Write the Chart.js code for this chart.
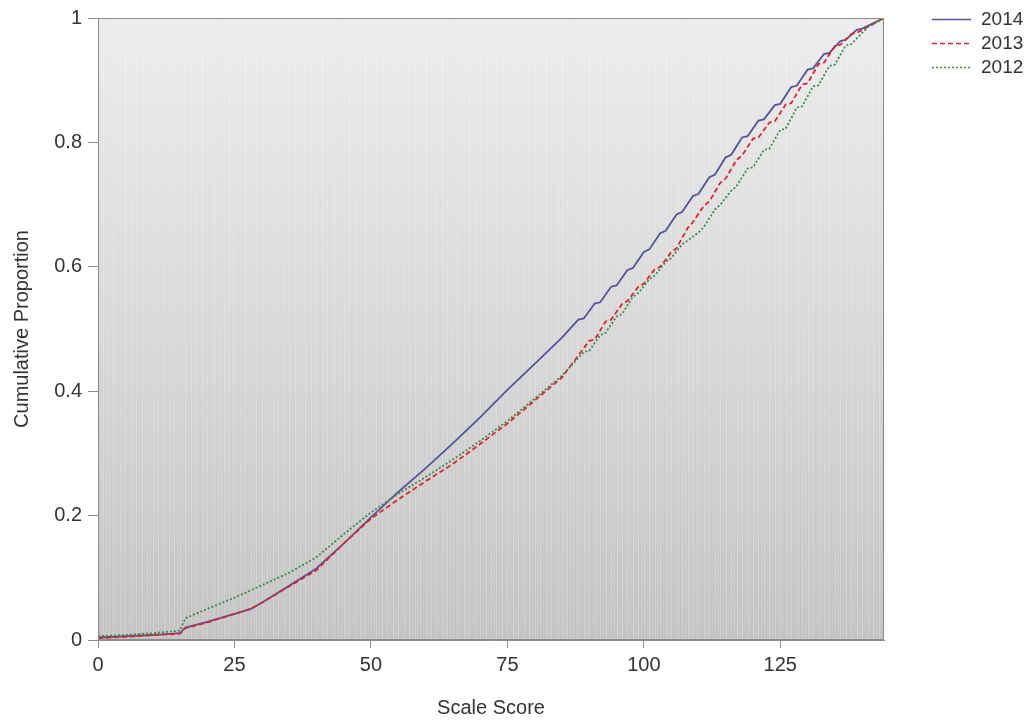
<!DOCTYPE html>
<html>
<head>
<meta charset="utf-8">
<script src="https://cdn.jsdelivr.net/npm/chart.js@4.4.1/dist/chart.umd.min.js"></script>
<style>
  html, body { margin: 0; padding: 0; background: #fff; }
  #wrap { width: 1034px; height: 721px; position: relative; }
</style>
</head>
<body>
<div id="wrap"><canvas id="cdf"></canvas></div>
<script>
'use strict';

// Cumulative proportion of students by scale score, one curve per year

var years = ['2014', '2013', '2012'];

var scores2014 = [0, 5, 10, 15, 16, 20, 25, 28, 30, 35, 40, 45, 50, 55, 60, 65, 70, 75, 80, 85,
  88, 89, 91, 92, 94, 95, 97, 98, 100, 101, 103, 104, 106, 107, 109, 110, 112, 113, 115, 116,
  118, 119, 121, 122, 124, 125, 127, 128, 130, 131, 133, 134, 136, 137, 139, 140, 144];
var share2014 = [0.004, 0.006, 0.008, 0.011, 0.020, 0.029, 0.042, 0.050, 0.060, 0.087, 0.115, 0.155, 0.197, 0.238, 0.276, 0.316, 0.358, 0.402, 0.444, 0.486,
  0.515, 0.517, 0.541, 0.543, 0.568, 0.570, 0.595, 0.598, 0.624, 0.628, 0.654, 0.658, 0.684, 0.688, 0.714, 0.717, 0.744, 0.748, 0.776, 0.780,
  0.808, 0.810, 0.835, 0.837, 0.860, 0.862, 0.889, 0.891, 0.917, 0.919, 0.942, 0.944, 0.963, 0.965, 0.981, 0.983, 1.000];

var scores2013 = [0, 5, 10, 15, 16, 20, 25, 28, 30, 35, 40, 45, 50, 55, 60, 65, 70, 75, 80, 85,
  90, 91, 93, 94, 96, 97, 99, 100, 102, 103, 105, 106, 108, 109, 111, 112, 114, 115, 117, 118,
  120, 121, 123, 124, 126, 127, 129, 130, 132, 133, 135, 136, 138, 139, 144];
var share2013 = [0.003, 0.005, 0.008, 0.010, 0.019, 0.028, 0.042, 0.050, 0.060, 0.086, 0.112, 0.155, 0.195, 0.226, 0.255, 0.283, 0.315, 0.348, 0.385, 0.422,
  0.481, 0.483, 0.512, 0.515, 0.540, 0.545, 0.568, 0.573, 0.596, 0.600, 0.623, 0.630, 0.662, 0.672, 0.698, 0.705, 0.735, 0.742, 0.772, 0.779,
  0.806, 0.808, 0.832, 0.834, 0.861, 0.863, 0.893, 0.895, 0.926, 0.928, 0.955, 0.957, 0.974, 0.976, 1.000];

var scores2012 = [0, 5, 10, 15, 16, 20, 25, 28, 30, 35, 40, 45, 50, 55, 60, 65, 70, 75, 80, 85,
  89, 90, 92, 93, 95, 96, 98, 99, 101, 102, 104, 105, 107, 108, 110, 111, 113, 114, 116, 117,
  119, 120, 122, 123, 125, 126, 128, 129, 131, 132, 134, 135, 137, 138, 141, 144];
var share2012 = [0.006, 0.008, 0.011, 0.015, 0.035, 0.050, 0.068, 0.080, 0.088, 0.108, 0.133, 0.170, 0.205, 0.235, 0.262, 0.290, 0.320, 0.352, 0.388, 0.425,
  0.463, 0.465, 0.490, 0.494, 0.520, 0.524, 0.552, 0.558, 0.580, 0.586, 0.608, 0.614, 0.636, 0.642, 0.655, 0.664, 0.692, 0.700, 0.722, 0.730,
  0.758, 0.760, 0.788, 0.790, 0.820, 0.822, 0.856, 0.858, 0.890, 0.892, 0.923, 0.925, 0.956, 0.958, 0.985, 1.000];

var xTicks = [0, 25, 50, 75, 100, 125];
var yTicks = [0, 0.2, 0.4, 0.6, 0.8, 1];

var lineColors = { '2014': '#54549c', '2013': '#e0242c', '2012': '#3c8a4c' };
var lineDash = { '2014': [], '2013': [5, 3], '2012': [2, 2] };

var FONT = '"Liberation Sans", Arial, Helvetica, sans-serif';
var TEXT = '#333333';
var AXIS = '#8c8c8c';

function points(xs, ys) {
  return xs.map(function(x, i) { return { x: x, y: ys[i] }; });
}

function series(year, xs, ys) {
  return {
    label: year,
    data: points(xs, ys),
    borderColor: lineColors[year],
    borderDash: lineDash[year],
    borderWidth: 1.8,
    pointRadius: 0,
    tension: 0,
    fill: false
  };
}

// Grey gradient panel with fine vertical stripes
var panel = {
  id: 'panel',
  beforeDraw: function(chart) {
    var ctx = chart.ctx, a = chart.chartArea, xs = chart.scales.x;
    ctx.save();
    var g = ctx.createLinearGradient(0, a.top, 0, a.bottom);
    g.addColorStop(0, '#ececec');
    g.addColorStop(1, '#c3c3c3');
    ctx.fillStyle = g;
    ctx.fillRect(a.left, a.top, a.right - a.left, a.bottom - a.top);
    ctx.lineWidth = 1;
    for (var v = 0.5; v < xs.max; v += 0.5) {
      var px = Math.round(xs.getPixelForValue(v)) + 0.5;
      ctx.strokeStyle = (v % 1 === 0) ? 'rgba(255,255,255,0.22)' : 'rgba(255,255,255,0.10)';
      ctx.beginPath();
      ctx.moveTo(px, a.top);
      ctx.lineTo(px, a.bottom);
      ctx.stroke();
    }
    ctx.restore();
  },
  afterDatasetsDraw: function(chart) {
    var ctx = chart.ctx, a = chart.chartArea;
    ctx.save();
    ctx.strokeStyle = AXIS;
    ctx.lineWidth = 1;
    ctx.strokeRect(Math.round(a.left) + 0.5, Math.round(a.top) + 0.5,
      Math.round(a.right - a.left) - 1, Math.round(a.bottom - a.top) - 1);
    ctx.restore();
  }
};

// Legend on the right: line sample then year
var sideLegend = {
  id: 'sideLegend',
  afterDraw: function(chart) {
    var ctx = chart.ctx;
    ctx.save();
    ctx.font = '19px ' + FONT;
    ctx.textBaseline = 'middle';
    ctx.textAlign = 'left';
    years.forEach(function(year, i) {
      var y = 19 + i * 24;
      ctx.strokeStyle = lineColors[year];
      ctx.lineWidth = 1.5;
      ctx.setLineDash(lineDash[year]);
      ctx.beginPath();
      ctx.moveTo(932, y + 0.5);
      ctx.lineTo(971, y + 0.5);
      ctx.stroke();
      ctx.setLineDash([]);
      ctx.fillStyle = TEXT;
      ctx.fillText(year, 981, y + 1);
    });
    ctx.restore();
  }
};

var chart = new Chart(document.getElementById('cdf'), {
  type: 'line',
  data: {
    datasets: [
      series('2012', scores2012, share2012),
      series('2013', scores2013, share2013),
      series('2014', scores2014, share2014)
    ]
  },
  plugins: [panel, sideLegend],
  options: {
    responsive: true,
    maintainAspectRatio: false,
    animation: false,
    events: [],
    layout: { padding: { top: 17, right: 150, bottom: 0, left: 0 } },
    plugins: {
      legend: { display: false },
      tooltip: { enabled: false }
    },
    scales: {
      x: {
        type: 'linear',
        min: 0,
        max: 144,
        afterBuildTicks: function(scale) {
          scale.ticks = xTicks.map(function(v) { return { value: v }; });
        },
        afterFit: function(scale) { scale.height = 81; },
        ticks: {
          color: TEXT,
          font: { family: FONT, size: 20 },
          padding: 5,
          maxRotation: 0,
          minRotation: 0,
          autoSkip: false
        },
        grid: { drawOnChartArea: false, tickLength: 8, tickColor: AXIS },
        border: { color: AXIS },
        title: {
          display: true,
          text: 'Scale Score',
          color: TEXT,
          font: { family: FONT, size: 20 },
          padding: { top: 0, bottom: 1 }
        }
      },
      y: {
        min: 0,
        max: 1,
        afterBuildTicks: function(scale) {
          scale.ticks = yTicks.map(function(v) { return { value: v }; });
        },
        afterFit: function(scale) { scale.width = 98; },
        ticks: {
          color: TEXT,
          font: { family: FONT, size: 20 },
          padding: 6,
          callback: function(v) { return String(+v.toFixed(1)); }
        },
        grid: { drawOnChartArea: false, tickLength: 10, tickColor: AXIS },
        border: { color: AXIS },
        title: {
          display: true,
          text: 'Cumulative Proportion',
          color: TEXT,
          font: { family: FONT, size: 20 },
          padding: { top: 10, bottom: 0 }
        }
      }
    }
  }
});
</script>
</body>
</html>
